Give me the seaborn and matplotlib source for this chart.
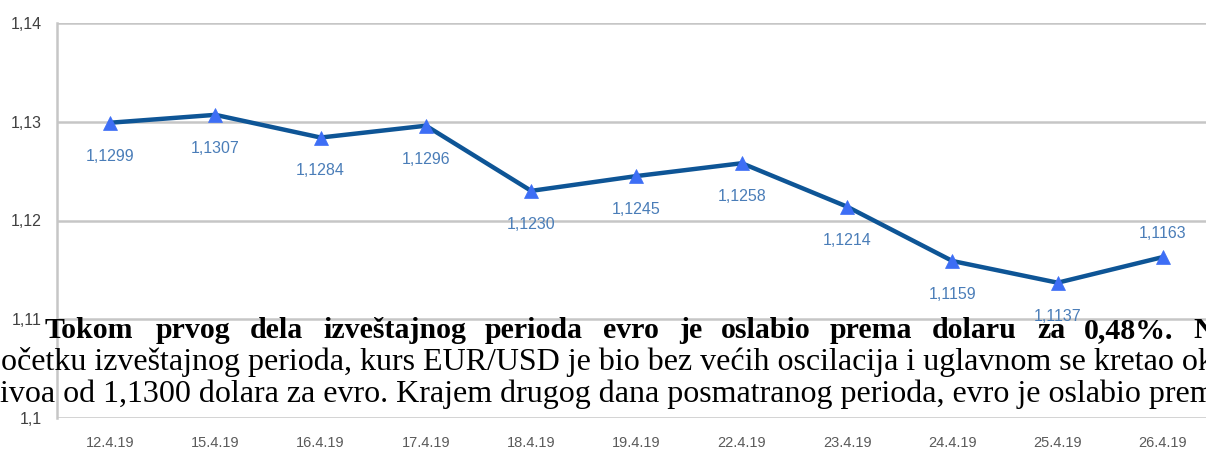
import matplotlib
matplotlib.use("Agg")
import matplotlib.pyplot as plt
import seaborn as sns
import pandas as pd

dates = ["12.4.19", "15.4.19", "16.4.19", "17.4.19", "18.4.19", "19.4.19",
         "22.4.19", "23.4.19", "24.4.19", "25.4.19", "26.4.19"]
rates = [1.1299, 1.1307, 1.1284, 1.1296, 1.1230, 1.1245, 1.1258, 1.1214,
         1.1159, 1.1137, 1.1163]
rate_labels = ["1,1299", "1,1307", "1,1284", "1,1296", "1,1230", "1,1245",
               "1,1258", "1,1214", "1,1159", "1,1137", "1,1163"]
yticks = [1.10, 1.11, 1.12, 1.13, 1.14]
ytick_labels = ["1,1", "1,11", "1,12", "1,13", "1,14"]

para_bold_words = ["Tokom", "prvog", "dela", "izveštajnog", "perioda", "evro",
                   "je", "oslabio", "prema", "dolaru", "za", "0,48%.", "N"]
para_line2 = "očetku izveštajnog perioda, kurs EUR/USD je bio bez većih oscilacija i uglavnom se kretao ok"
para_line3 = "ivoa od 1,1300 dolara za evro. Krajem drugog dana posmatranog perioda, evro je oslabio prem"

sns.set_theme(style="white")
plt.rcParams["font.family"] = ["Liberation Sans", "DejaVu Sans"]

W, H = 1206, 450
fig = plt.figure(figsize=(W / 100, H / 100), dpi=100)
left_px, right_px, top_px, bot_px = 57.4, 1215.6, 23, 418
ax = fig.add_axes([left_px / W, 1 - bot_px / H,
                   (right_px - left_px) / W, (bot_px - top_px) / H])

df = pd.DataFrame({"date": pd.Categorical(dates, categories=dates, ordered=True),
                   "rate": rates})
sns.lineplot(data=df, x="date", y="rate", ax=ax, color="#0e5596", lw=3.2,
             marker="^", markersize=10.5, markerfacecolor="#3d6ef5",
             markeredgecolor="#3d6ef5", markeredgewidth=0.5, zorder=3, sort=False)

ax.set_xlim(-0.5, len(dates) - 0.5)
ax.set_ylim(1.10, 1.14)
ax.set_yticks(yticks)
ax.set_yticklabels(ytick_labels)
ax.grid(axis="y", color="#c6c6c6", lw=1.8)
ax.grid(axis="x", visible=False)
ax.set_axisbelow(True)
for s in ["top", "right", "bottom"]:
    ax.spines[s].set_visible(False)
ax.spines["left"].set_color("#c6c6c6")
ax.spines["left"].set_linewidth(1.8)
ax.tick_params(axis="y", length=4, width=1.5, color="#c6c6c6", pad=7,
               labelsize=11.5, labelcolor="#404040")
ax.tick_params(axis="x", length=0, pad=13, labelsize=10.5, labelcolor="#5a5a5a")
ax.set_xlabel("")
ax.set_ylabel("")

for i, (v, lab) in enumerate(zip(rates, rate_labels)):
    off = 17 if i == len(rates) - 1 else -24
    ax.annotate(lab, (i, v), xytext=(0, off), textcoords="offset points",
                ha="center", va="center", fontsize=11.5, color="#4a7db8")

# overlapping document paragraph (justified bold first line)
serif = ["Liberation Serif", "DejaVu Serif"]
word_x = [45, 156, 250, 323, 485, 603, 679, 721, 830, 932, 1037, 1084, 1193]
for w, x in zip(para_bold_words, word_x):
    fig.text(x / W, 1 - 338 / H, w, fontsize=21.5, fontweight="bold",
             family=serif, color="black", va="baseline", ha="left")
fig.text(1 / W, 1 - 370 / H, para_line2, fontsize=23, family=serif,
         color="black", va="baseline", ha="left")
fig.text(0 / W, 1 - 402 / H, para_line3, fontsize=23, family=serif,
         color="black", va="baseline", ha="left")

fig.savefig("out.png", dpi=100)
